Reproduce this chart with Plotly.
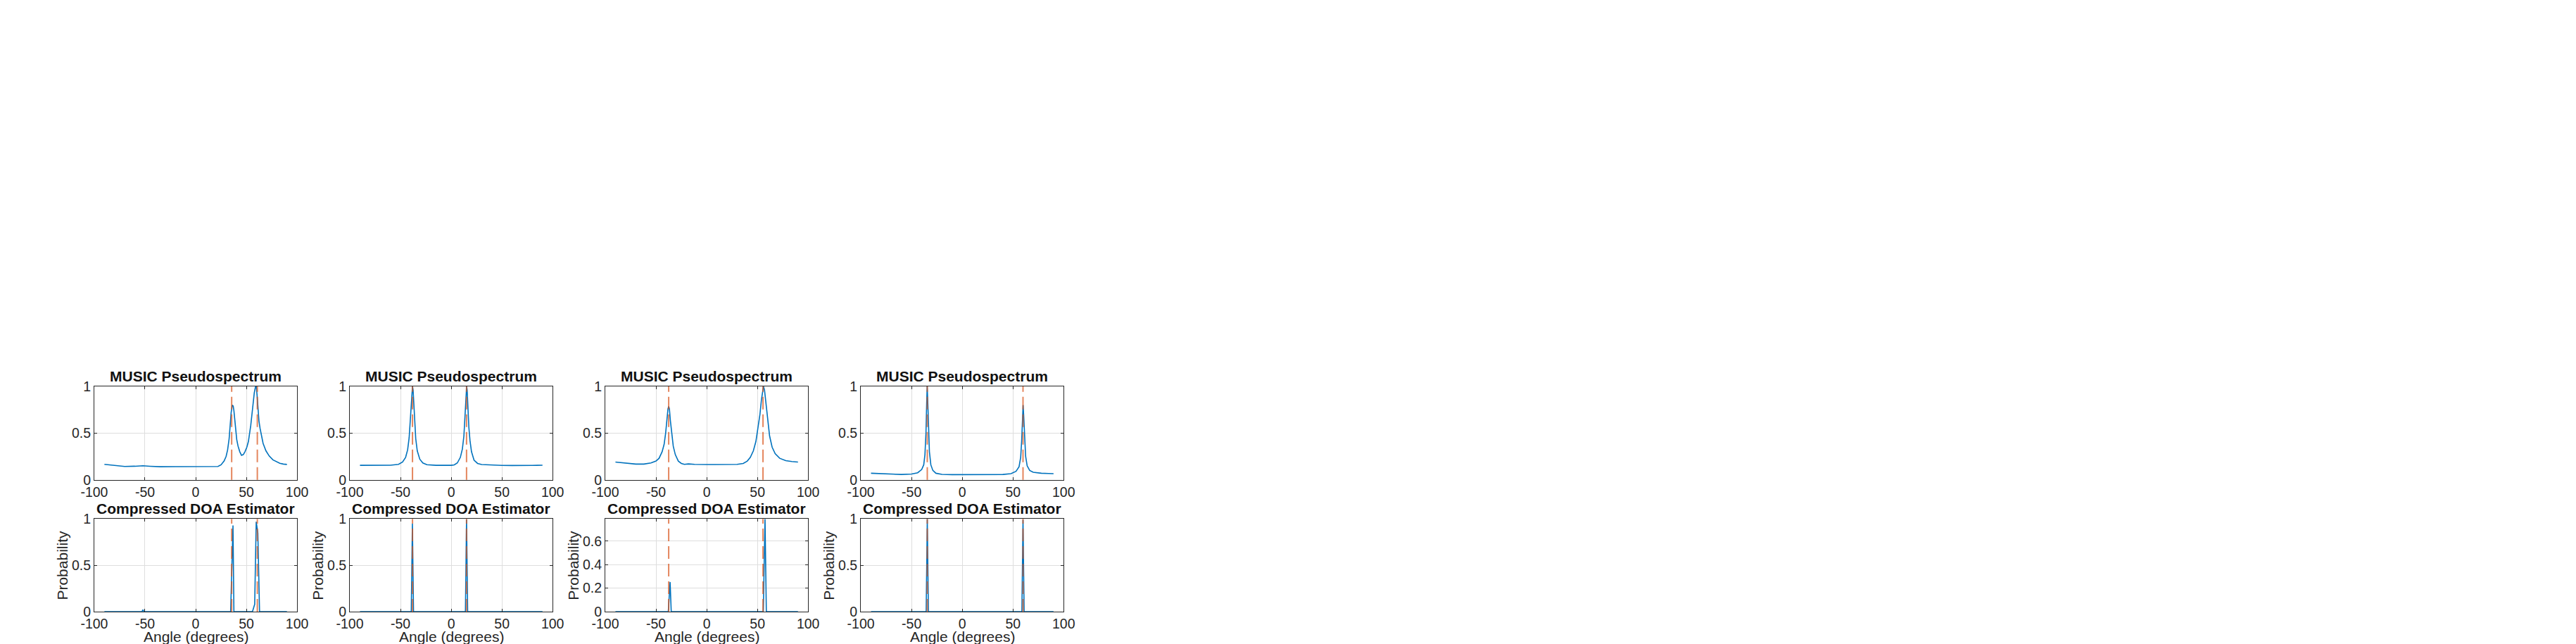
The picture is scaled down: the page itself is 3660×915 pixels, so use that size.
import plotly.graph_objects as go

W, H = 3660, 915

# ---------------- data ----------------
# MUSIC pseudospectra (top row)
m1_ang = [-90, -80, -70, -60, -52, -45, -35, -20, -10, 0, 10, 18, 22, 25, 28, 30, 31.5, 33, 33.8, 35, 36.1, 37, 37.7, 38.6, 39.5, 40.5, 41.8, 43.5, 45.2, 47, 48.6, 50.5, 52, 53.3, 54.3, 55.5, 56.6, 57.8, 59, 59.8, 60.6, 61.5, 62.4, 63.5, 64.7, 66.5, 69.3, 72.5, 76.2, 80, 83, 86.5, 90]
m1_val = [0.165, 0.155, 0.143, 0.145, 0.150, 0.145, 0.140, 0.141, 0.140, 0.142, 0.141, 0.140, 0.142, 0.160, 0.200, 0.250, 0.320, 0.440, 0.560, 0.720, 0.800, 0.790, 0.740, 0.620, 0.510, 0.430, 0.360, 0.300, 0.262, 0.270, 0.300, 0.350, 0.410, 0.490, 0.580, 0.700, 0.830, 0.930, 0.995, 1.000, 0.900, 0.750, 0.630, 0.550, 0.485, 0.390, 0.310, 0.255, 0.213, 0.192, 0.176, 0.168, 0.164]

m2_ang = [-90, -80, -70, -60, -52, -48, -45, -43, -41.5, -40.5, -39.5, -38.8, -38.2, -37.6, -37, -36, -35, -33.5, -31, -28, -24, -15, -5, 0, 3, 6, 9, 11, 12.5, 13.5, 14.3, 14.8, 15.2, 15.7, 16.4, 17.4, 18.5, 20, 22.5, 26, 30, 40, 50, 60, 70, 80, 90]
m2_val = [0.155, 0.155, 0.154, 0.156, 0.165, 0.190, 0.240, 0.320, 0.450, 0.620, 0.820, 0.960, 1.000, 0.960, 0.820, 0.600, 0.440, 0.310, 0.220, 0.180, 0.162, 0.155, 0.152, 0.155, 0.160, 0.180, 0.240, 0.330, 0.470, 0.650, 0.850, 0.970, 1.000, 0.960, 0.780, 0.560, 0.420, 0.300, 0.210, 0.175, 0.163, 0.156, 0.154, 0.153, 0.152, 0.154, 0.156]

m3_ang = [-90, -85, -78, -70, -62, -55, -50, -47, -44, -42, -40.5, -39.3, -38.2, -37.5, -36.8, -35.8, -34.5, -33, -31, -28, -25, -22, -18, -12, 0, 10, 20, 30, 36, 40, 43, 46, 48.5, 50.5, 52.5, 54, 55.2, 56, 57, 58.3, 60, 62, 64.5, 67.5, 72, 78, 84, 90]
m3_val = [0.190, 0.185, 0.175, 0.168, 0.168, 0.180, 0.200, 0.230, 0.300, 0.380, 0.500, 0.640, 0.760, 0.785, 0.760, 0.630, 0.480, 0.360, 0.270, 0.200, 0.175, 0.165, 0.170, 0.165, 0.163, 0.162, 0.163, 0.165, 0.175, 0.200, 0.240, 0.310, 0.410, 0.540, 0.700, 0.860, 0.970, 1.000, 0.960, 0.820, 0.630, 0.470, 0.350, 0.280, 0.230, 0.205, 0.195, 0.190]

m4_ang = [-90, -80, -70, -60, -50, -44, -40, -38, -36.8, -35.8, -35.1, -34.6, -34.1, -33.4, -32.4, -31, -29, -26, -20, -10, 0, 20, 40, 48, 53, 56, 57.6, 58.6, 59.4, 60, 60.6, 61.4, 62.5, 64, 66.5, 70, 78, 85, 90]
m4_val = [0.070, 0.065, 0.058, 0.057, 0.062, 0.075, 0.110, 0.160, 0.270, 0.500, 0.820, 1.000, 0.860, 0.550, 0.300, 0.160, 0.100, 0.070, 0.058, 0.055, 0.055, 0.055, 0.057, 0.065, 0.090, 0.140, 0.240, 0.420, 0.660, 0.800, 0.680, 0.440, 0.250, 0.150, 0.100, 0.080, 0.070, 0.067, 0.065]

# Compressed DOA estimator probabilities (bottom row)
c1_ang = [-90, -53, -52, -51, 34.5, 36.8, 37.7, 56, 58.2, 59.7, 61.3, 63, 90]
c1_val = [0, 0, 0.02, 0, 0, 0.93, 0, 0, 0.08, 0.97, 0.85, 0, 0]

c2_ang = [-90, -39.4, -38.3, -37.2, 14, 15.1, 16.2, 90]
c2_val = [0, 0, 0.95, 0, 0, 0.995, 0, 0]

c3_ang = [-90, -37.9, -36.1, -35.0, 55.8, 57.5, 58.8, 90]
c3_val = [0, 0, 0.252, 0, 0, 0.788, 0, 0]

c4_ang = [-90, -35.6, -34.5, -33.4, 58.8, 59.9, 61, 90]
c4_val = [0, 0, 1.0, 0, 0, 0.99, 0, 0]

# true source angles (dashed lines)
true_angles = [[35.5, 60.8], [-38.2, 15.1], [-37.5, 55.5], [-34.5, 59.9]]

top_title = "MUSIC Pseudospectrum"
bot_title = "Compressed DOA Estimator"
x_label = "Angle (degrees)"
y_label = "Probability"
x_ticks = [-100, -50, 0, 50, 100]
x_ticktext = ["-100", "-50", "0", "50", "100"]
y_ticks = [0, 0.5, 1]
y_ticktext = ["0", "0.5", "1"]
y_ticks_small = [0, 0.2, 0.4, 0.6]
y_ticktext_small = ["0", "0.2", "0.4", "0.6"]
bot_ymax = [1, 1, 0.788, 1]

top_series = [(m1_ang, m1_val), (m2_ang, m2_val), (m3_ang, m3_val), (m4_ang, m4_val)]
bot_series = [(c1_ang, c1_val), (c2_ang, c2_val), (c3_ang, c3_val), (c4_ang, c4_val)]

# ---------------- layout geometry (pixels) ----------------
lefts = [107, 473.7, 840.3, 1207]
pw = 291
top_rows = (543, 679)
bot_rows = (736, 871)

FONT = "Liberation Sans, Arial, Helvetica, sans-serif"
AX = "#262626"
GRID = "#dedede"
BLUE = "#0072BD"
ORANGE = "rgba(217,83,25,0.7)"

fig = go.Figure()
layout = dict(width=W, height=H, margin=dict(l=0, r=0, t=0, b=0),
              paper_bgcolor="white", plot_bgcolor="white", showlegend=False)
shapes = []
annotations = []

def xd(px):
    return px / W

def yd(py):
    return 1 - py / H

idx = 0
for row in range(2):
    for col in range(4):
        idx += 1
        sfx = "" if idx == 1 else str(idx)
        L = lefts[col]
        y0p, y1p = top_rows if row == 0 else bot_rows
        if row == 0:
            ang, val = top_series[col]
            ymax = 1
            yt, ytt = y_ticks, y_ticktext
        else:
            ang, val = bot_series[col]
            ymax = bot_ymax[col]
            if ymax < 1:
                yt, ytt = y_ticks_small, y_ticktext_small
            else:
                yt, ytt = y_ticks, y_ticktext
        fig.add_trace(go.Scatter(x=ang, y=val, mode="lines",
                                 line=dict(color=BLUE, width=1.6),
                                 xaxis="x" + sfx, yaxis="y" + sfx,
                                 hoverinfo="skip"))
        common = dict(showline=True, linecolor=AX, linewidth=1, mirror="ticks",
                      ticks="inside", ticklen=4, tickcolor=AX, tickwidth=1,
                      showgrid=True, gridcolor=GRID, gridwidth=1, zeroline=False,
                      tickfont=dict(family=FONT, size=19.5, color=AX))
        layout["xaxis" + sfx] = dict(common, domain=[xd(L), xd(L + pw)],
                                     anchor="y" + sfx, range=[-100, 100],
                                     tickvals=x_ticks, ticktext=x_ticktext)
        layout["yaxis" + sfx] = dict(common, domain=[yd(y1p), yd(y0p)],
                                     anchor="x" + sfx, range=[0, ymax],
                                     tickvals=yt, ticktext=ytt)
        for a in true_angles[col]:
            shapes.append(dict(type="line", xref="x" + sfx, yref="y" + sfx + " domain",
                               x0=a, x1=a, y0=0, y1=1,
                               line=dict(color=ORANGE, width=2, dash="18px,7px")))
        annotations.append(dict(text="<b>%s</b>" % (top_title if row == 0 else bot_title),
                                xref="paper", yref="paper",
                                x=xd(L + pw / 2), y=yd(y0p - 15),
                                xanchor="center", yanchor="middle", showarrow=False,
                                font=dict(family=FONT, size=21, color="#111111")))
        if row == 1:
            annotations.append(dict(text=x_label, xref="paper", yref="paper",
                                    x=xd(L + pw / 2), y=yd(907),
                                    xanchor="center", yanchor="middle", showarrow=False,
                                    font=dict(family=FONT, size=21, color=AX)))
            annotations.append(dict(text=y_label, xref="paper", yref="paper",
                                    x=xd(L - 46), y=yd((y0p + y1p) / 2),
                                    xanchor="center", yanchor="middle", showarrow=False,
                                    textangle=-90,
                                    font=dict(family=FONT, size=21, color=AX)))

layout["shapes"] = shapes
layout["annotations"] = annotations
fig.update_layout(**layout)
fig.write_html("out.html")
